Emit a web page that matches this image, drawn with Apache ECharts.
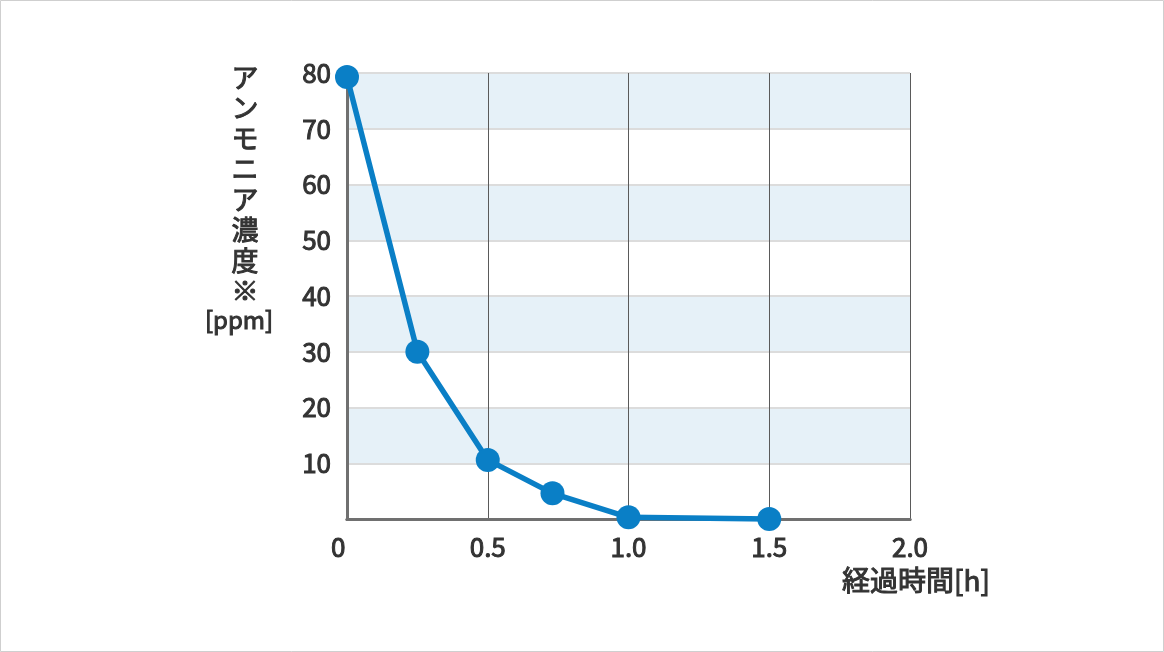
<!DOCTYPE html>
<html><head><meta charset="utf-8">
<script src="https://cdn.jsdelivr.net/npm/echarts@6/dist/echarts.min.js"></script>
<style>html,body{margin:0;padding:0;background:#fff}#c{width:1164px;height:652px}</style>
</head><body><div id="c"></div>
<script>
const hours = [0, 0.25, 0.5, 0.73, 1.0, 1.5];
const ammonia = [79.3, 30, 10.6, 4.6, 0.3, 0];
const xTicks = [0, 0.5, 1.0, 1.5, 2.0];
const yTicks = [10, 20, 30, 40, 50, 60, 70, 80];
const yName = 'アンモニア濃度※';
const yUnit = '[ppm]';
const xName = '経過時間[h]';

const FONT = '"Noto Sans CJK JP", "Noto Sans", sans-serif';
const TXT = '#333333';
const thick = {textBorderColor: TXT, textBorderWidth: 1};
const gthick = {stroke: TXT, lineWidth: 1};
const frame = {show: true, lineStyle: {color: '#707070', width: 3}};
const chart = echarts.init(document.getElementById('c'));
chart.setOption({
  animation: false,
  backgroundColor: '#fff',
  grid: {left: 347, top: 73, right: 254, bottom: 133},
  graphic: [
    {type: 'rect', shape: {x: 0.5, y: 0.5, width: 1163, height: 651}, style: {fill: 'none', stroke: '#cfcfcf', lineWidth: 1}, silent: true, z: 100},
    {type: 'text', x: 245, y: 62, style: Object.assign({text: yName.split('').join('\n'), font: '27px ' + FONT, fill: TXT, align: 'center', lineHeight: 30.5}, gthick)},
    {type: 'text', x: 239, y: 308, style: Object.assign({text: yUnit, font: '24px ' + FONT, fill: TXT, align: 'center'}, gthick)},
    {type: 'text', x: 990, y: 566, style: Object.assign({text: xName, font: '28px ' + FONT, fill: TXT, align: 'right'}, gthick)}
  ],
  xAxis: [{
    type: 'value', min: 0, max: 2, interval: 0.5, position: 'bottom',
    axisLine: frame, axisTick: {show: false},
    axisLabel: Object.assign({margin: 15, color: TXT, fontSize: 26, fontFamily: FONT,
      formatter: v => v === 0 ? '0   ' : v.toFixed(1)}, thick),
    splitLine: {show: true, lineStyle: {color: '#5a5a5a', width: 1}}
  }, {
    type: 'value', min: 0, max: 2, interval: 0.5, position: 'top',
    axisLine: frame, axisTick: {show: false}, axisLabel: {show: false}, splitLine: {show: false}
  }],
  yAxis: [{
    type: 'value', min: 0, max: 80, interval: 10, position: 'left',
    axisLine: frame, axisTick: {show: false},
    axisLabel: Object.assign({margin: 16, color: TXT, fontSize: 26, fontFamily: FONT,
      formatter: v => yTicks.includes(v) ? String(v) : ''}, thick),
    splitLine: {show: true, lineStyle: {color: '#dcdcdc', width: 2}},
    splitArea: {show: true, areaStyle: {color: ['#ffffff', '#e6f1f8']}}
  }, {
    type: 'value', min: 0, max: 80, interval: 10, position: 'right',
    axisLine: frame, axisTick: {show: false}, axisLabel: {show: false}, splitLine: {show: false}
  }],
  series: [{
    type: 'line', xAxisIndex: 0, yAxisIndex: 0,
    data: hours.map((h, i) => [h, ammonia[i]]),
    symbol: 'circle', symbolSize: 24, clip: false,
    lineStyle: {color: '#0a7fc6', width: 5.5},
    itemStyle: {color: '#0a7fc6'},
    z: 10
  }]
});
</script></body></html>
